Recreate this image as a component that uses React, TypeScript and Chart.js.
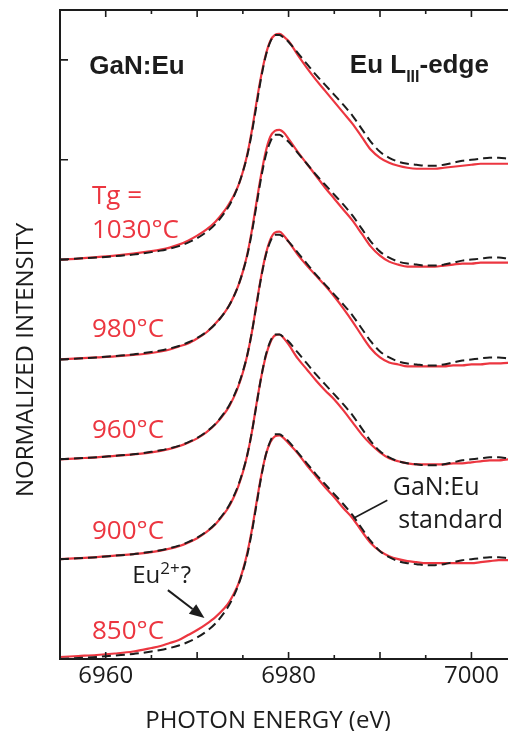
import React, { useEffect, useRef } from 'react';
import { Chart, registerables } from 'chart.js';
Chart.register(...registerables);

// Photon energy grid (eV)
const energy = [
  6955, 6957, 6959, 6961, 6963, 6965, 6966, 6967, 6968, 6969, 6970, 6971, 6972, 6973, 6973.5, 6974, 6974.5,
  6975, 6975.5, 6976, 6976.5, 6977, 6977.5, 6978, 6978.5, 6979, 6979.5, 6980, 6981, 6982, 6983, 6984, 6985,
  6986, 6987, 6988, 6989, 6990, 6991, 6992, 6993, 6994, 6995, 6996, 6997, 6998, 6999, 7000, 7001, 7002, 7003,
  7004, 7005,
];

// GaN:Eu standard (dashed), normalized, relative to each trace's baseline
const standard = [
  0.0, 0.01, 0.02, 0.035, 0.05, 0.075, 0.09, 0.11, 0.135, 0.17, 0.215, 0.275, 0.355, 0.47, 0.54, 0.63, 0.74,
  0.88, 1.05, 1.28, 1.55, 1.82, 2.04, 2.18, 2.25, 2.25, 2.22, 2.18, 2.07, 1.96, 1.85, 1.75, 1.65,
  1.55, 1.44, 1.31, 1.18, 1.08, 1.02, 0.98, 0.96, 0.95, 0.94, 0.94, 0.95, 0.97, 0.99, 1.0, 1.01, 1.02, 1.02,
  1.01, 1.0,
];

// Samples (red), normalized, relative to each trace's baseline
const tg1030 = [
  0.0, 0.01, 0.025, 0.04, 0.06, 0.085, 0.1, 0.12, 0.15, 0.19, 0.24, 0.3, 0.38, 0.49, 0.56, 0.64, 0.74,
  0.88, 1.06, 1.3, 1.58, 1.84, 2.05, 2.19, 2.25, 2.26, 2.23, 2.19, 2.05, 1.92, 1.8, 1.69, 1.58,
  1.47, 1.36, 1.23, 1.1, 1.02, 0.97, 0.94, 0.92, 0.91, 0.91, 0.91, 0.92, 0.93, 0.94, 0.95, 0.96, 0.96, 0.96,
  0.96, 0.95,
];
const tg980 = [
  0.0, 0.01, 0.02, 0.03, 0.045, 0.065, 0.08, 0.1, 0.13, 0.16, 0.21, 0.27, 0.36, 0.47, 0.54, 0.63, 0.74,
  0.88, 1.06, 1.3, 1.58, 1.85, 2.08, 2.23, 2.29, 2.3, 2.27, 2.21, 2.08, 1.96, 1.84, 1.72, 1.61,
  1.5, 1.39, 1.26, 1.13, 1.04, 0.98, 0.95, 0.93, 0.93, 0.93, 0.93, 0.94, 0.95, 0.96, 0.96, 0.97, 0.97, 0.97,
  0.97, 0.97,
];
const tg960 = [
  0.0, 0.01, 0.02, 0.035, 0.05, 0.07, 0.085, 0.105, 0.13, 0.165, 0.21, 0.27, 0.35, 0.46, 0.53, 0.62, 0.73,
  0.87, 1.05, 1.28, 1.56, 1.83, 2.05, 2.2, 2.27, 2.28, 2.24, 2.18, 2.05, 1.94, 1.84, 1.74, 1.63,
  1.51, 1.38, 1.24, 1.11, 1.02, 0.97, 0.95, 0.93, 0.93, 0.93, 0.93, 0.93, 0.94, 0.94, 0.95, 0.95, 0.96, 0.96,
  0.965, 0.965,
];
const tg900 = [
  0.0, 0.01, 0.02, 0.035, 0.05, 0.07, 0.085, 0.105, 0.13, 0.165, 0.21, 0.27, 0.35, 0.46, 0.53, 0.62, 0.73,
  0.87, 1.05, 1.28, 1.56, 1.82, 2.03, 2.17, 2.24, 2.25, 2.21, 2.15, 2.01, 1.9, 1.79, 1.69, 1.6,
  1.49, 1.37, 1.25, 1.15, 1.07, 1.01, 0.98, 0.96, 0.95, 0.95, 0.95, 0.95, 0.96, 0.96, 0.97, 0.98, 0.99, 0.99,
  1.0, 1.0,
];
const tg850 = [
  0.02, 0.03, 0.04, 0.055, 0.075, 0.11, 0.13, 0.16, 0.19, 0.24, 0.29, 0.35, 0.42, 0.51, 0.57, 0.65, 0.75,
  0.89, 1.07, 1.3, 1.57, 1.83, 2.04, 2.17, 2.23, 2.24, 2.21, 2.16, 2.06, 1.94, 1.83, 1.72, 1.62,
  1.51, 1.41, 1.28, 1.16, 1.08, 1.03, 1.0, 0.98, 0.97, 0.96, 0.96, 0.96, 0.96, 0.96, 0.96, 0.97, 0.98, 0.99,
  0.99, 0.99,
];

const samples = [tg1030, tg980, tg960, tg900, tg850];
const sampleNames = ['1030°C', '980°C', '960°C', '900°C', '850°C'];
const offsets = [4, 3, 2, 1, 0];
const xTickLabels = [6960, 6980, 7000];
const yTicks = [1, 2, 3, 4, 5, 6];

const RED = '#ec3640';
const BLACK = '#1c1c1c';

// annotation anchors in data coordinates [energy, intensity]
const labelX = 6958.5;
const labelY = [4.22, 3.22, 2.21, 1.2, 0.2];
const tgY = 4.56;

const overlay = {
  id: 'overlay',
  afterDraw(chart: any) {
    const ctx = chart.ctx as CanvasRenderingContext2D;
    const { left, right, top, bottom } = chart.chartArea;
    const xs = chart.scales.x;
    const ys = chart.scales.y;
    const X = (v: number) => xs.getPixelForValue(v);
    const Y = (v: number) => ys.getPixelForValue(v);
    ctx.save();
    // frame
    ctx.strokeStyle = BLACK;
    ctx.lineWidth = 2;
    ctx.setLineDash([]);
    ctx.beginPath();
    ctx.moveTo(right + 4, top);
    ctx.lineTo(left, top);
    ctx.lineTo(left, bottom);
    ctx.lineTo(right + 4, bottom);
    ctx.stroke();
    // inward ticks
    ctx.lineWidth = 1.6;
    ctx.beginPath();
    xs.ticks.forEach((t: any) => {
      const px = X(t.value);
      if (px <= left + 1 || px > right) return;
      const len = t.value % 10 === 0 ? 7 : 4;
      ctx.moveTo(px, bottom);
      ctx.lineTo(px, bottom - len);
      ctx.moveTo(px, top);
      ctx.lineTo(px, top + len);
    });
    yTicks.forEach((v) => {
      const py = Y(v);
      ctx.moveTo(left, py);
      ctx.lineTo(left + 8, py);
    });
    ctx.stroke();

    // axis titles
    ctx.fillStyle = BLACK;
    ctx.font = '24px "Open Sans"';
    ctx.textAlign = 'center';
    ctx.textBaseline = 'alphabetic';
    ctx.fillText('PHOTON ENERGY (eV)', 268, 728);
    ctx.save();
    ctx.translate(33, 360);
    ctx.rotate(-Math.PI / 2);
    ctx.fillText('NORMALIZED INTENSITY', 0, 0);
    ctx.restore();

    // bold headers
    ctx.textAlign = 'left';
    ctx.font = 'bold 26px "Liberation Sans", Arial';
    ctx.fillText('GaN:Eu', X(6958.2), Y(5.86));
    let hx = X(6986.7);
    const hy = Y(5.87);
    ctx.fillText('Eu L', hx, hy);
    hx += ctx.measureText('Eu L').width;
    ctx.font = 'bold 16px "Liberation Sans", Arial';
    ctx.fillText('III', hx, hy + 9);
    hx += ctx.measureText('III').width;
    ctx.font = 'bold 26px "Liberation Sans", Arial';
    ctx.fillText('-edge', hx, hy);

    // sample labels
    ctx.fillStyle = RED;
    ctx.font = '26px "Open Sans"';
    ctx.fillText('Tg =', X(labelX), Y(tgY));
    sampleNames.forEach((n, i) => ctx.fillText(n, X(labelX), Y(labelY[i])));

    // Eu2+? annotation
    ctx.fillStyle = BLACK;
    let ex = X(6962.9);
    const ey = Y(0.76);
    ctx.font = '24px "Open Sans"';
    ctx.fillText('Eu', ex, ey);
    ex += ctx.measureText('Eu').width;
    ctx.font = '17px "Open Sans"';
    ctx.fillText('2+', ex, ey - 9);
    ex += ctx.measureText('2+').width + 1;
    ctx.font = '24px "Open Sans"';
    ctx.fillText('?', ex, ey);

    // arrow
    const ax0 = X(6966.8), ay0 = Y(0.69), ax1 = X(6970.8), ay1 = Y(0.41);
    const ang = Math.atan2(ay1 - ay0, ax1 - ax0);
    const hl = 15, hw = 6;
    ctx.strokeStyle = BLACK;
    ctx.lineWidth = 2;
    ctx.beginPath();
    ctx.moveTo(ax0, ay0);
    ctx.lineTo(ax1 - hl * Math.cos(ang), ay1 - hl * Math.sin(ang));
    ctx.stroke();
    ctx.beginPath();
    ctx.moveTo(ax1, ay1);
    ctx.lineTo(ax1 - hl * Math.cos(ang) + hw * Math.sin(ang), ay1 - hl * Math.sin(ang) - hw * Math.cos(ang));
    ctx.lineTo(ax1 - hl * Math.cos(ang) - hw * Math.sin(ang), ay1 - hl * Math.sin(ang) + hw * Math.cos(ang));
    ctx.closePath();
    ctx.fill();

    // standard label
    ctx.font = '25px "Open Sans"';
    ctx.fillText('GaN:Eu', X(6991.4), Y(1.64));
    ctx.fillText('standard', X(6992.0), Y(1.31));
    ctx.lineWidth = 1.6;
    ctx.beginPath();
    ctx.moveTo(X(6987.1), Y(1.41));
    ctx.lineTo(X(6990.8), Y(1.59));
    ctx.stroke();

    ctx.restore();
  },
};

export default function App() {
  const ref = useRef<HTMLCanvasElement | null>(null);
  useEffect(() => {
    document.body.style.margin = '0';
    if (!ref.current) return;
    const datasets: any[] = [];
    samples.forEach((s, i) => {
      datasets.push({
        label: 'GaN:Eu standard ' + sampleNames[i],
        data: energy.map((e, k) => ({ x: e, y: standard[k] + offsets[i] })),
        borderColor: BLACK,
        borderWidth: 2,
        borderDash: [9, 5],
        pointRadius: 0,
        cubicInterpolationMode: 'monotone',
        fill: false,
      });
    });
    samples.forEach((s, i) => {
      datasets.push({
        label: sampleNames[i],
        data: energy.map((e, k) => ({ x: e, y: s[k] + offsets[i] })),
        borderColor: RED,
        borderWidth: 2.2,
        pointRadius: 0,
        cubicInterpolationMode: 'monotone',
        fill: false,
      });
    });
    const chart = new Chart(ref.current, {
      type: 'line',
      data: { datasets },
      options: {
        animation: false,
        responsive: false,
        devicePixelRatio: 1,
        layout: { padding: { left: 60, top: 10, right: 0, bottom: 0 } },
        plugins: { legend: { display: false }, tooltip: { enabled: false } },
        scales: {
          x: {
            type: 'linear',
            min: 6955,
            max: 7004,
            border: { display: false },
            grid: { display: false, drawTicks: false, tickLength: 0 },
            afterFit: (scale: any) => {
              scale.height = 72;
            },
            ticks: {
              stepSize: 5,
              autoSkip: false,
              includeBounds: false,
              maxRotation: 0,
              padding: 5,
              color: BLACK,
              font: { family: '"Open Sans"', size: 24, lineHeight: 1 },
              callback: (v: any) => (xTickLabels.includes(Number(v)) ? String(v) : ''),
            },
          },
          y: {
            type: 'linear',
            display: false,
            min: 0,
            max: 6.5,
          },
        },
      },
      plugins: [overlay],
    });
    return () => chart.destroy();
  }, []);
  return <canvas ref={ref} width={508} height={731} style={{ display: 'block' }} />;
}
